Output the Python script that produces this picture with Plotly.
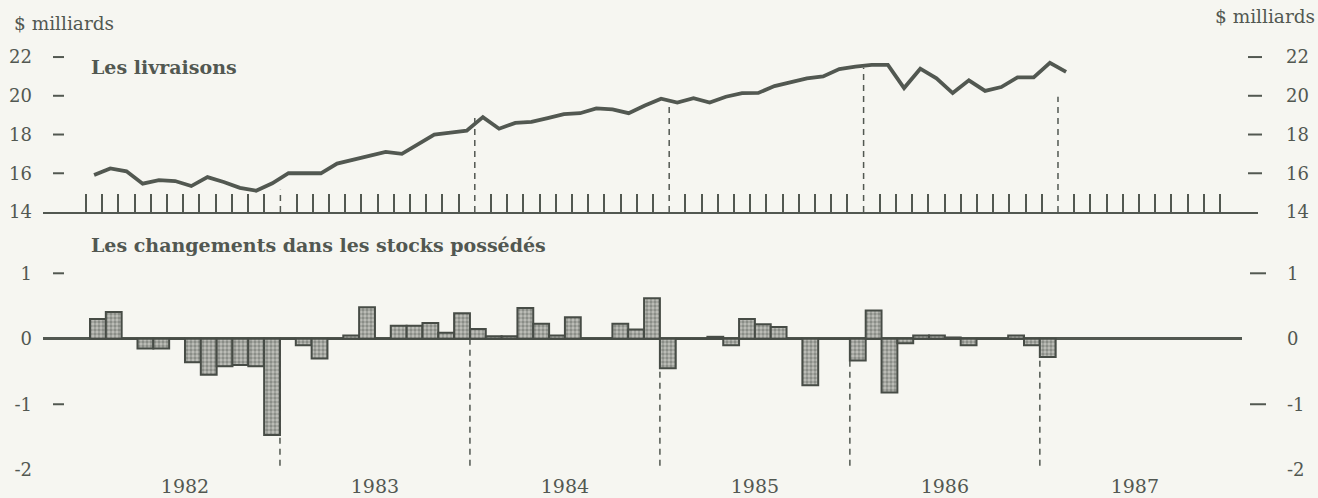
import numpy as np
import plotly.graph_objects as go

# ── Données (milliards de dollars, janv. 1982 - janv. 1987) ──────────────
livraisons = [
    15.91, 16.25, 16.10, 15.46, 15.65, 15.60, 15.34, 15.80, 15.55, 15.25, 15.10, 15.48,
    16.00, 16.00, 16.00, 16.50, 16.70, 16.88, 17.10, 17.00, 17.50, 18.00, 18.10, 18.20,
    18.90, 18.30, 18.60, 18.65, 18.85, 19.05, 19.10, 19.35, 19.30, 19.10, 19.50, 19.85,
    19.65, 19.88, 19.65, 19.95, 20.14, 20.15, 20.50, 20.70, 20.90, 21.00, 21.38, 21.50,
    21.60, 21.60, 20.40, 21.40, 20.90, 20.14, 20.80, 20.25, 20.45, 20.95, 20.95, 21.70,
    21.23,
]
stocks = [
    0.30, 0.41, 0.00, -0.15, -0.15, 0.00, -0.36, -0.55, -0.42, -0.40, -0.42, -1.47,
    0.00, -0.10, -0.30, 0.00, 0.05, 0.48, 0.00, 0.20, 0.20, 0.24, 0.09, 0.39,
    0.15, 0.04, 0.04, 0.47, 0.23, 0.05, 0.33, 0.00, 0.00, 0.23, 0.14, 0.62,
    -0.45, 0.00, 0.00, 0.03, -0.10, 0.30, 0.22, 0.18, 0.00, -0.71, 0.00, 0.00,
    -0.33, 0.43, -0.82, -0.07, 0.05, 0.05, 0.02, -0.10, 0.00, 0.00, 0.05, -0.10,
    -0.28,
]
annees = ["1982", "1983", "1984", "1985", "1986", "1987"]
ticks_haut = [14, 16, 18, 20, 22]
ticks_bas = [1, 0, -1, -2]
# hauteur des pointillés de fin d'année (panneau du haut)
pointilles_haut = [15.15, 18.85, 19.70, 21.45, 19.95]

# ── Style ─────────────────────────────────────────────
W, H = 1318, 498
FOND = "#f6f6f1"
ENCRE = "#525851"
POLICE = "DejaVu Serif"


def px(x):
    return x / W


def py(y):
    return 1 - y / H


mois = np.arange(len(livraisons)) + 0.5
fins_annee = [12 * k for k in range(1, len(annees))]
graduations = [m for m in range(0, 71) if m == 0 or m % 12]

fig = go.Figure()

fig.add_trace(go.Scatter(
    x=mois, y=livraisons, mode="lines",
    line=dict(color=ENCRE, width=3.8),
    xaxis="x", yaxis="y", hoverinfo="skip", showlegend=False
))
fig.add_trace(go.Scatter(
    x=mois, y=livraisons, mode="lines", opacity=0,
    xaxis="x", yaxis="y3", hoverinfo="skip", showlegend=False
))
fig.add_trace(go.Bar(
    x=mois, y=stocks, width=1,
    marker=dict(
        color="#9a9d97",
        line=dict(color="#474c46", width=2),
        pattern=dict(shape=".", size=4, solidity=0.55,
                     fgcolor="#efefea", bgcolor="#868983"),
    ),
    xaxis="x2", yaxis="y2", hoverinfo="skip", showlegend=False
))
fig.add_trace(go.Scatter(
    x=mois, y=stocks, mode="lines", opacity=0,
    xaxis="x2", yaxis="y4", hoverinfo="skip", showlegend=False
))

# pointillés verticaux
shapes = []
for b, haut in zip(fins_annee, pointilles_haut):
    shapes.append(dict(type="line", xref="x", yref="y", x0=b, x1=b, y0=14, y1=haut,
                       line=dict(color=ENCRE, width=1.5, dash="6px,5px"), layer="below"))
    shapes.append(dict(type="line", xref="x2", yref="y2", x0=b, x1=b, y0=0, y1=-1.97,
                       line=dict(color=ENCRE, width=1.5, dash="6px,5px"), layer="below"))

# petits tirets des axes verticaux
for v in ticks_haut[1:]:
    shapes.append(dict(type="line", xref="paper", yref="y", x0=px(53), x1=px(64), y0=v, y1=v,
                       line=dict(color=ENCRE, width=2)))
    shapes.append(dict(type="line", xref="paper", yref="y", x0=px(1248), x1=px(1262), y0=v, y1=v,
                       line=dict(color=ENCRE, width=2)))
for v in [1, -1]:
    shapes.append(dict(type="line", xref="paper", yref="y2", x0=px(53), x1=px(64), y0=v, y1=v,
                       line=dict(color=ENCRE, width=2)))
    shapes.append(dict(type="line", xref="paper", yref="y2", x0=px(1250), x1=px(1266), y0=v, y1=v,
                       line=dict(color=ENCRE, width=2)))

texte = dict(family=POLICE, size=18, color=ENCRE)

axe_y = dict(showgrid=False, zeroline=False, showline=False, ticks="",
             tickfont=texte, fixedrange=True, automargin=False)

fig.update_layout(
    width=W, height=H,
    margin=dict(l=0, r=0, t=0, b=0, autoexpand=False),
    paper_bgcolor=FOND, plot_bgcolor=FOND,
    bargap=0,
    shapes=shapes,
    xaxis=dict(
        domain=[px(43), px(1258)], range=[-2.654, 72.346], anchor="y",
        showgrid=False, zeroline=False, showline=True, linecolor=ENCRE, linewidth=2,
        tickmode="array", tickvals=graduations, ticks="inside", ticklen=18,
        tickwidth=2, tickcolor=ENCRE, showticklabels=False, automargin=False,
    ),
    yaxis=dict(axe_y, domain=[py(212), py(40)], range=[14, 22.88],
               tickvals=ticks_haut, ticklabelstandoff=10),
    yaxis3=dict(axe_y, overlaying="y", side="right", anchor="x", range=[14, 22.88],
                tickvals=ticks_haut, ticklabelstandoff=27),
    xaxis2=dict(
        domain=[px(43), px(1242)], range=[-2.969, 72.77], anchor="y2",
        showgrid=False, zeroline=False, showline=False, ticks="",
        tickmode="array", tickvals=[12 * k + 6 for k in range(len(annees))],
        ticktext=annees, tickfont=dict(texte, size=19), ticklabelstandoff=0,
        automargin=False,
    ),
    yaxis2=dict(axe_y, domain=[py(473), py(234)], range=[-2.05, 1.6],
                tickvals=ticks_bas, ticktext=["1", "0", "-1", "-2"],
                zeroline=True, zerolinecolor=ENCRE, zerolinewidth=3,
                ticklabelstandoff=10),
    yaxis4=dict(axe_y, overlaying="y2", side="right", anchor="x2", range=[-2.05, 1.6],
                tickvals=ticks_bas, ticktext=["1", "0", "-1", "-2"],
                ticklabelstandoff=44),
    annotations=[
        dict(text="$ milliards", x=px(12), y=py(23), xref="paper", yref="paper",
             xanchor="left", yanchor="middle", showarrow=False, font=dict(texte, size=18.5)),
        dict(text="$ milliards", x=px(1317), y=py(17), xref="paper", yref="paper",
             xanchor="right", yanchor="middle", showarrow=False, font=dict(texte, size=18.5)),
        dict(text="<b>Les livraisons</b>", x=px(89), y=py(67), xref="paper", yref="paper",
             xanchor="left", yanchor="middle", showarrow=False, font=dict(texte, size=19)),
        dict(text="<b>Les changements dans les stocks possédés</b>", x=px(89), y=py(245),
             xref="paper", yref="paper", xanchor="left", yanchor="middle",
             showarrow=False, font=dict(texte, size=19)),
    ],
)

fig.write_html(
    "out.html",
    config={"displayModeBar": False, "staticPlot": True},
    post_script=(
        "document.documentElement.style.overflow = 'hidden';"
        "document.body.style.margin = '0';"
        "document.body.style.height = '498px';"
        "document.body.style.overflow = 'hidden';"
    ),
)
